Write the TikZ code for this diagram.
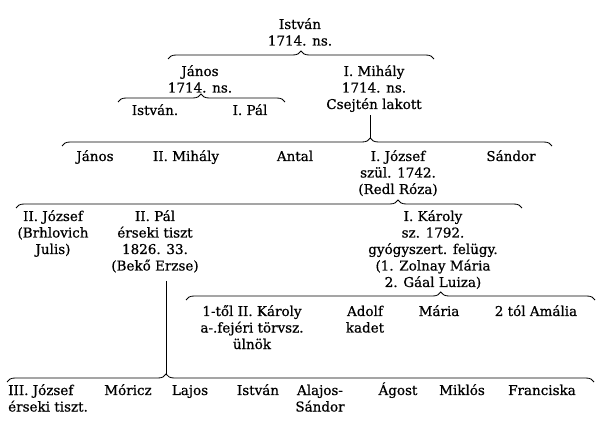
\documentclass[tikz,border=0pt]{standalone}
\usepackage{fontspec}
\setmainfont{DejaVu Serif}[FakeBold=0.7]
\usetikzlibrary{decorations.pathreplacing}
\begin{document}
\begin{tikzpicture}[x=1pt,y=-1pt,
  person/.style={anchor=base,align=center,inner sep=0pt,font=\fontsize{13.5}{16.5}\selectfont},
  brk/.style={decorate,decoration={brace,amplitude=8pt,aspect=#1},line width=0.85pt},
  link/.style={line width=0.85pt}]
\useasboundingbox[fill=white] (0,0) rectangle (608,430);

% (node positions give the baseline of the LAST line of each node)
% generation 1
\node[person] (istvanA) at (300,45.5) {István\\1714. ns.};
% generation 2
\node[person] (janos1) at (200,92.5) {János\\1714. ns.};
\node[person] (mihaly1) at (374,109) {I. Mihály\\1714. ns.\\Csejtén lakott};
% generation 3
\node[person] (istvanB) at (155,115) {István.};
\node[person] (pal1) at (250,115) {I. Pál};
\node[person] (janos2) at (95,161) {János};
\node[person] (mihaly2) at (186,161) {II. Mihály};
\node[person] (antal) at (295,161) {Antal};
\node[person] (jozsef1) at (398,194) {I. József\\szül. 1742.\\(Redl Róza)};
\node[person] (sandor1) at (511,161) {Sándor};
% generation 4
\node[person] (jozsef2) at (53,254) {II. József\\(Brhlovich\\Julis)};
\node[person] (pal2) at (155,270.5) {II. Pál\\érseki tiszt\\1826. 33.\\(Bekő Erzse)};
\node[person] (karoly1) at (433,287) {I. Károly\\sz. 1792.\\gyógyszert. felügy.\\(1. Zolnay Mária\\2. Gáal Luiza)};
% generation 5 (children of I. Károly)
\node[person] (karoly2) at (252,349) {1-től II. Károly\\a-.fejéri törvsz.\\ülnök};
\node[person] (adolf) at (365,332.5) {Adolf\\kadet};
\node[person] (maria) at (439,316) {Mária};
\node[person] (amalia) at (536,316) {2 tól Amália};
% generation 5 (children of II. Pál)
\node[person,anchor=base west,align=left] (jozsef3) at (8,411.5) {III. József\\érseki tiszt.};
\node[person] (moricz) at (128,395) {Móricz};
\node[person] (lajos) at (190,395) {Lajos};
\node[person] (istvanC) at (258,395) {István};
\node[person] (alajos) at (320,411.5) {Alajos-\\Sándor};
\node[person] (agost) at (398,395) {Ágost};
\node[person] (miklos) at (462,395) {Miklós};
\node[person] (franciska) at (542,395) {Franciska};

% bracket end points (tips of the end ticks)
\coordinate (b1L) at (168,59);  \coordinate (b1R) at (434,59);
\coordinate (b2L) at (118,102); \coordinate (b2R) at (285,102);
\coordinate (b3L) at (62,146);  \coordinate (b3R) at (552,146);
\coordinate (b4L) at (16,208);  \coordinate (b4R) at (522,208);
\coordinate (b5L) at (186,300); \coordinate (b5R) at (595,300);
\coordinate (b6L) at (7,382);   \coordinate (b6R) at (594,382);
% peaks where the parent joins
\coordinate (p3) at (370,138);
\coordinate (p6) at (166,374);

\draw[brk=0.5] (b1L) -- (b1R);
\draw[brk=0.497] (b2L) -- (b2R);
\draw[brk=0.629] (b3L) -- (b3R);
\draw[brk=0.755] (b4L) -- (b4R);
\draw[brk=0.623] (b5L) -- (b5R);
\draw[brk=0.271] (b6L) -- (b6R);

\draw[link] ([yshift=-3pt]p3 |- mihaly1.south) -- (p3);
\draw[link] ([yshift=-8pt]p6 |- pal2.south) -- (p6);
\end{tikzpicture}
\end{document}
